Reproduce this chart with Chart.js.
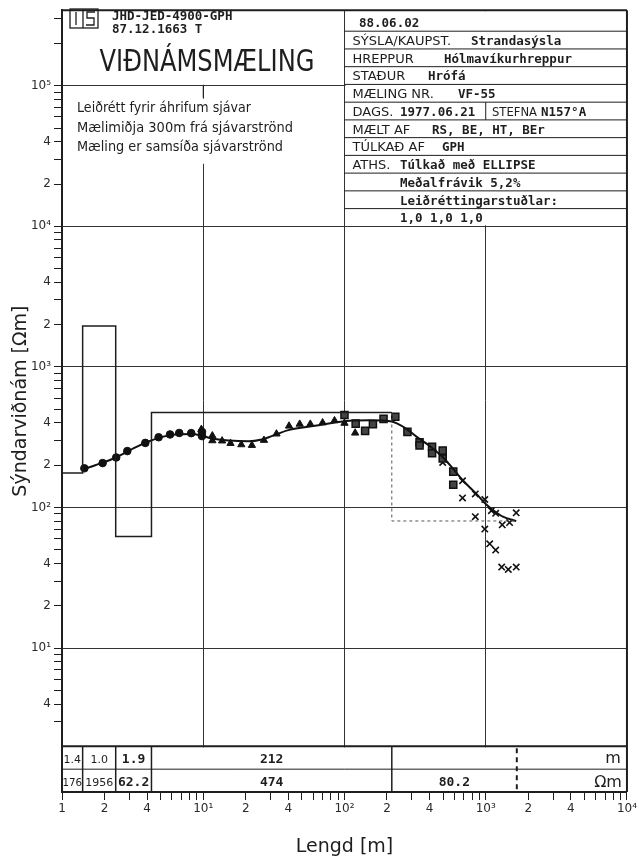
<!DOCTYPE html>
<html lang="is">
<head>
<meta charset="utf-8">
<title>Viðnámsmæling VF-55</title>
<script src="https://cdn.jsdelivr.net/npm/chart.js@4.4.0/dist/chart.umd.min.js"></script>
<style>
  html, body { margin: 0; padding: 0; background: #fff; }
  canvas { display: block; }
</style>
</head>
<body>
<canvas id="chart" width="639" height="862"></canvas>
<script>
// layered model, interpreted with ELLIPSE
const layerThickness = [1.4, 1.0, 1.9, 212];
const layerRho = [176, 1956, 62.2, 474, 80.2];
const depthLimit = 1660; // dashed end of the last layer

// measured apparent resistivity vs AB/2, one array per marker type
const circleX = [1.44, 1.94, 2.42, 2.90, 3.89, 4.83, 5.82, 6.76, 8.22, 9.8, 9.8];
const circleRho = [190, 207, 227, 252, 288, 316, 331, 339, 338, 345, 322];
const triangleX = [9.7, 11.6, 11.6, 13.6, 15.6, 18.6, 22.1, 26.9, 33.0, 40.5, 48.2, 57.3, 70.0, 85.0, 100, 119];
const triangleRho = [360, 324, 299, 298, 286, 280, 277, 301, 334, 380, 392, 392, 401, 415, 398, 339];
const squareX = [100, 120, 140, 159, 189, 229, 279, 340, 340, 417, 417, 496, 496, 589, 589];
const squareRho = [455, 395, 351, 392, 427, 442, 345, 291, 276, 270, 243, 254, 223, 180, 145];
const crossX = [496, 685, 685, 844, 844, 985, 985, 1097, 1176, 1067, 1176, 1309, 1475, 1644, 1297, 1445, 1644];
const crossRho = [209, 155, 117, 125, 86, 114, 70.3, 95, 91, 55.2, 49.8, 75.3, 78.2, 91.6, 37.7, 36.3, 37.7];

// fitted sounding curve
const curveX = [1.40, 1.72, 2.39, 3.31, 4.10, 5.11, 6.34, 8.32, 9.8, 11.5, 15.1, 20.9, 26, 30.5, 40.1, 61.7, 100, 150, 211, 235, 276, 325, 403, 501, 589, 693, 859, 1009, 1124, 1322, 1644];
const curveRho = [187, 200, 226, 268, 295, 318, 331, 334, 324, 310, 300, 296, 305, 322, 355, 381, 411, 417, 410, 397, 361, 318, 273, 226, 188, 155, 125, 105, 96, 86, 80];

// axes
const xMin = 1, xMax = 1e4;
const yMin = 0.947, yMax = 3.447e5;
const tableFloor = 2; // the layer table starts at this resistivity line
const xLabelValues = [1, 2, 4, 10, 20, 40, 100, 200, 400, 1000, 2000, 4000, 10000];
const xLabels = ['1', '2', '4', '10¹', '2', '4', '10²', '2', '4', '10³', '2', '4', '10⁴'];
const yLabelValues = [4, 10, 20, 40, 100, 200, 400, 1000, 2000, 4000, 1e4, 2e4, 4e4, 1e5];
const yLabels = ['4', '10¹', '2', '4', '10²', '2', '4', '10³', '2', '4', '10⁴', '2', '4', '10⁵'];

// sheet texts
const sheetId = ['JHD-JED-4900-GPH', '87.12.1663 T'];
const sheetTitle = 'VIÐNÁMSMÆLING';
const notes = ['Leiðrétt fyrir áhrifum sjávar', 'Mælimiðja 300m frá sjávarströnd', 'Mæling er samsíða sjávarströnd'];
const infoLabels = ['', 'SÝSLA/KAUPST.', 'HREPPUR', 'STAÐUR', 'MÆLING NR.', 'DAGS.', 'MÆLT AF', 'TÚLKAÐ AF', 'ATHS.', '', '', ''];
const infoValues = ['88.06.02', 'Strandasýsla', 'Hólmavíkurhreppur', 'Hrófá', 'VF-55', '1977.06.21', 'RS, BE, HT, BEr', 'GPH', 'Túlkað með ELLIPSE', 'Meðalfrávik 5,2%', 'Leiðréttingarstuðlar:', '1,0 1,0 1,0'];
const stefna = ['STEFNA', 'N157°A'];

const ink = '#1e1e1e';
const sans = '"DejaVu Sans", sans-serif';
const mono = '"DejaVu Sans Mono", monospace';

function logTicks(lo, hi) {
  const out = [];
  for (let e = -1; e <= 6; e++) {
    for (let m = 1; m <= 9; m++) {
      const v = +(m * Math.pow(10, e)).toPrecision(3);
      if (v >= lo && v <= hi) out.push(v);
    }
  }
  return out;
}
function isDecade(v) {
  const l = Math.log10(v);
  return Math.abs(l - Math.round(l)) < 1e-6;
}
function labelFor(values, labels, v) {
  const i = values.findIndex(t => Math.abs(t - v) / t < 1e-6);
  return i < 0 ? '' : labels[i];
}
const pts = (xs, ys) => xs.map((x, i) => ({x: x, y: ys[i]}));

// step line of the layered model
const depths = [];
layerThickness.reduce((d, t) => { d += t; depths.push(+d.toFixed(2)); return d; }, 0);
const modelSolid = [{x: xMin, y: layerRho[0]}];
depths.forEach((d, i) => {
  modelSolid.push({x: d, y: layerRho[i]});
  if (i < depths.length - 1) modelSolid.push({x: d, y: layerRho[i + 1]});
});
const lastDepth = depths[depths.length - 1];
const modelTail = [
  {x: lastDepth, y: layerRho[layerRho.length - 2]},
  {x: lastDepth, y: layerRho[layerRho.length - 1]},
  {x: depthLimit, y: layerRho[layerRho.length - 1]}
];

function txt(ctx, s, x, y, font, align, maxW) {
  ctx.font = font;
  ctx.textAlign = align || 'left';
  ctx.textBaseline = 'alphabetic';
  if (maxW) ctx.fillText(s, x, y, maxW); else ctx.fillText(s, x, y);
}

const sheetPlugin = {
  id: 'sheet',
  beforeDatasetsDraw(chart) {
    // the boxes and the layer table hide the grid behind them
    const {ctx, chartArea: a, scales: {x, y}} = chart;
    const x100 = x.getPixelForValue(100);
    const y1e5 = y.getPixelForValue(1e5), y1e4 = y.getPixelForValue(1e4);
    const yTab = y.getPixelForValue(tableFloor);
    ctx.save();
    ctx.fillStyle = '#fff';
    ctx.fillRect(a.left + 2, a.top + 1, x100 - a.left - 3, y1e5 - a.top - 2);
    ctx.fillRect(a.left + 2, y1e5 + 13, x100 - a.left - 3, 65);
    ctx.fillRect(x100 + 1, a.top + 1, a.right - x100 - 2, y1e4 - a.top - 2);
    ctx.fillRect(a.left + 2, yTab + 1, a.right - a.left - 3, a.bottom - yTab - 2);
    ctx.restore();
  },
  afterDraw(chart) {
    const {ctx, chartArea: a, scales: {x, y}} = chart;
    const xp = v => x.getPixelForValue(v), yp = v => y.getPixelForValue(v);
    const x100 = xp(100), y1e4 = yp(1e4), yTab = yp(tableFloor);
    const line = (x1, y1, x2, y2, w, dash) => {
      ctx.lineWidth = w || 1;
      ctx.setLineDash(dash || []);
      ctx.beginPath(); ctx.moveTo(x1, y1); ctx.lineTo(x2, y2); ctx.stroke();
    };
    ctx.save();
    ctx.strokeStyle = ink;
    ctx.fillStyle = ink;

    // frame
    line(a.left, a.top, a.right, a.top, 2);
    line(a.right, a.top, a.right, a.bottom, 2);
    line(a.left, yTab, a.right, yTab, 2);

    // logo
    ctx.lineWidth = 1.3;
    ctx.strokeRect(70, 9, 28, 19);
    line(76, 12, 76, 25, 1.3);
    line(83, 9, 83, 28, 1.3);
    ctx.beginPath();
    ctx.moveTo(95, 12); ctx.lineTo(87, 12); ctx.lineTo(87, 18); ctx.lineTo(94, 18);
    ctx.lineTo(94, 25); ctx.lineTo(86, 25);
    ctx.stroke();

    // title block
    txt(ctx, sheetId[0], 112, 20, 'bold 12.5px ' + mono);
    txt(ctx, sheetId[1], 112, 33, 'bold 12.5px ' + mono);
    txt(ctx, sheetTitle, 207, 71, '30px ' + sans, 'center', 215);
    line(xp(10), yp(1e5), xp(10), yp(1e5) + 12, 1);
    const noteW = [174, 216, 206];
    notes.forEach((s, i) => txt(ctx, s, 77, 112 + i * 19.5, '13.5px ' + sans, 'left', noteW[i]));

    // info table
    const r0 = a.top + 21, rh = (y1e4 - r0) / 11;
    const rows = [a.top];
    for (let i = 0; i < 12; i++) rows.push(r0 + i * rh);
    for (let i = 1; i < rows.length - 1; i++) line(x100, rows[i], a.right, rows[i], 1);
    const valueX = [359, 471, 444, 428, 458, 400, 432, 442, 400, 400, 400, 400];
    infoValues.forEach((v, i) => {
      const base = rows[i + 1] - 4;
      if (infoLabels[i]) txt(ctx, infoLabels[i], x100 + 8, base, '13px ' + sans);
      txt(ctx, v, valueX[i], base, 'bold 12.5px ' + mono);
    });
    line(xp(1000), rows[5], xp(1000), rows[6], 1);
    txt(ctx, stefna[0], 492, rows[6] - 4, '13px ' + sans, 'left', 45);
    txt(ctx, stefna[1], 541, rows[6] - 4, 'bold 12.5px ' + mono);

    // layer table
    const yMid = (yTab + a.bottom) / 2;
    line(a.left, yMid, a.right, yMid, 1);
    depths.forEach(d => line(xp(d), yTab, xp(d), a.bottom, 1.5));
    line(xp(depthLimit), yTab + 2, xp(depthLimit), a.bottom, 2, [5, 4]);
    layerRho.forEach((r, i) => {
      const l = xp(i === 0 ? xMin : depths[i - 1]);
      const rr = xp(i < depths.length ? depths[i] : depthLimit);
      const cx = (l + rr) / 2;
      const font = i < 2 ? '11px ' + sans : 'bold 13px ' + mono;
      const maxW = i < 2 ? rr - l - 1 : undefined;
      if (i < layerThickness.length) {
        const t = layerThickness[i];
        txt(ctx, t < 100 ? t.toFixed(1) : String(t), cx, yMid - 6, font, 'center', maxW);
      }
      txt(ctx, String(r), cx, a.bottom - 6, font, 'center', maxW);
    });
    txt(ctx, 'm', a.right - 6, yMid - 6, '16px ' + sans, 'right');
    txt(ctx, 'Ωm', a.right - 5, a.bottom - 5, '16px ' + sans, 'right');
    ctx.restore();
  }
};

new Chart(document.getElementById('chart'), {
  type: 'scatter',
  data: {
    datasets: [
      {data: modelSolid, showLine: true, borderColor: ink, borderWidth: 1.5, pointRadius: 0, tension: 0},
      {data: modelTail, showLine: true, borderColor: '#555', borderWidth: 1, borderDash: [3, 3], pointRadius: 0, tension: 0},
      {data: pts(curveX, curveRho), showLine: true, borderColor: '#111', borderWidth: 2, pointRadius: 0, cubicInterpolationMode: 'monotone'},
      {data: pts(circleX, circleRho), pointStyle: 'circle', pointRadius: 3.8, backgroundColor: '#111', borderColor: '#111', borderWidth: 1},
      {data: pts(triangleX, triangleRho), pointStyle: 'triangle', pointRadius: 4.2, backgroundColor: '#111', borderColor: '#111', borderWidth: 1},
      {data: pts(squareX, squareRho), pointStyle: 'rect', pointRadius: 5, backgroundColor: '#444', borderColor: '#111', borderWidth: 1.5},
      {data: pts(crossX, crossRho), pointStyle: 'crossRot', pointRadius: 4.5, borderColor: '#111', borderWidth: 1.6}
    ]
  },
  options: {
    responsive: false,
    animation: false,
    events: [],
    layout: {padding: {top: 4, right: 11, left: 0, bottom: 0}},
    plugins: {legend: {display: false}, tooltip: {enabled: false}},
    scales: {
      x: {
        type: 'logarithmic',
        min: xMin,
        max: xMax,
        afterBuildTicks: s => { s.ticks = logTicks(xMin, xMax).map(v => ({value: v})); },
        afterFit: s => { s.height = 70; },
        border: {color: ink, width: 2},
        grid: {
          color: c => (c.tick && isDecade(c.tick.value)) ? '#333' : 'rgba(0,0,0,0)',
          tickColor: ink,
          tickLength: 8,
          lineWidth: 1
        },
        ticks: {
          autoSkip: false,
          maxRotation: 0,
          padding: 2,
          color: '#2a2a2a',
          font: {family: 'DejaVu Sans', size: 12},
          callback: v => labelFor(xLabelValues, xLabels, v)
        },
        title: {display: true, text: 'Lengd [m]', color: ink, font: {family: 'DejaVu Sans', size: 19}, padding: {top: 0, bottom: 4}}
      },
      y: {
        type: 'logarithmic',
        min: yMin,
        max: yMax,
        afterBuildTicks: s => { s.ticks = logTicks(3, yMax).map(v => ({value: v})); },
        afterFit: s => { s.width = 62; },
        border: {color: ink, width: 2},
        grid: {
          color: c => (c.tick && isDecade(c.tick.value)) ? '#333' : 'rgba(0,0,0,0)',
          tickColor: ink,
          tickLength: 8,
          lineWidth: 1
        },
        ticks: {
          autoSkip: false,
          padding: 3,
          color: '#2a2a2a',
          font: {family: 'DejaVu Sans', size: 12},
          callback: v => labelFor(yLabelValues, yLabels, v)
        },
        title: {display: true, text: 'Sýndarviðnám [Ωm]', color: ink, font: {family: 'DejaVu Sans', size: 19}, padding: {top: 10, bottom: 0}}
      }
    }
  },
  plugins: [sheetPlugin]
});
</script>
</body>
</html>
